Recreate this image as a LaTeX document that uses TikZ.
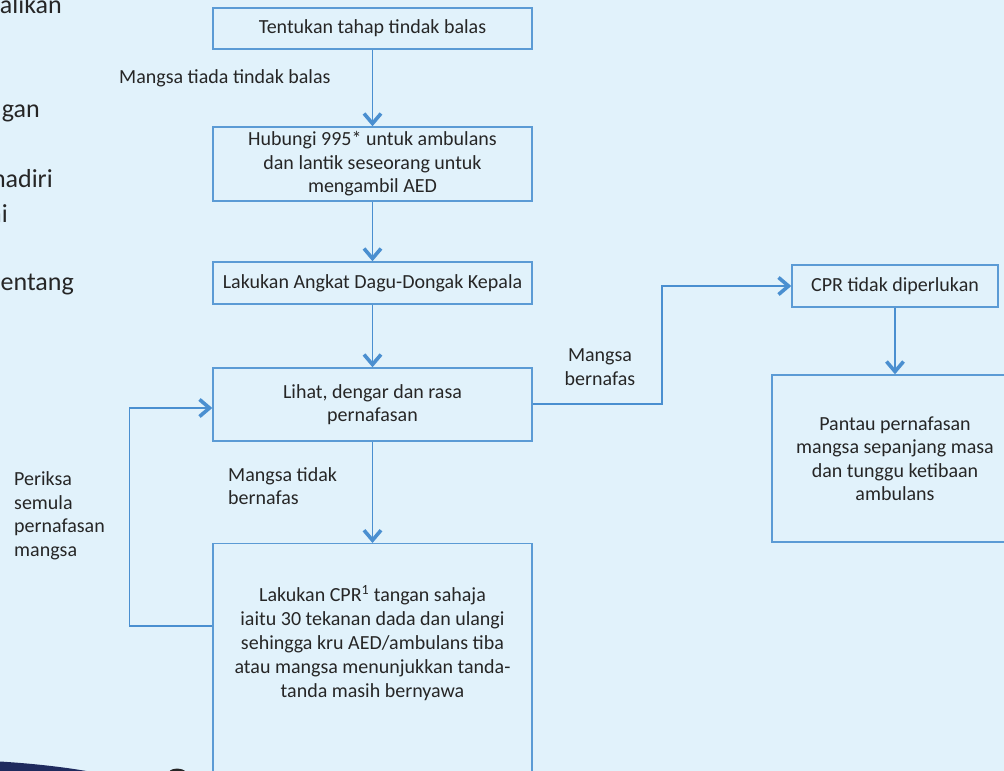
\documentclass[tikz,border=0pt]{standalone}
\usepackage{fontspec}
\setmainfont{Carlito}
\usetikzlibrary{arrows.meta}
\definecolor{bg}{HTML}{E1F2FB}
\definecolor{boxline}{HTML}{5B9BD5}
\definecolor{arrowc}{HTML}{4A8FD0}
\definecolor{txt}{HTML}{262626}
\definecolor{navy}{HTML}{1F2B5E}
\tikzset{
  stepbox/.style={draw=boxline, line width=1.4pt, fill=none, text=txt, align=center,
    font=\fontsize{20}{23.5}\selectfont, inner sep=0pt},
  lbl/.style={text=txt, font=\fontsize{20}{23.5}\selectfont, inner sep=0pt},
  bigtxt/.style={text=txt, font=\fontsize{26}{31}\selectfont, inner sep=0pt},
  flow/.style={draw=arrowc, line width=1.7pt,
    -{Straight Barb[length=10pt,width=17pt,line width=3.6pt]}},
}
\begin{document}
\begin{tikzpicture}[x=1pt,y=-1pt]
\fill[bg] (0,0) rectangle (1004,771);
\useasboundingbox (0,0) rectangle (1004,771);
\clip (0,0) rectangle (1004,771);

% cut-off text at left edge
\node[bigtxt, anchor=base east] (l1) at (62,13) {alikan};
\node[bigtxt, anchor=base east] (l2) at (40,117) {gan};
\node[bigtxt, anchor=base east] (l3) at (53,187) {hadiri};
\node[bigtxt, anchor=base east] (l4) at (8,222) {hi};
\node[bigtxt, anchor=base east] (l5) at (74,290) {entang};

% boxes
\node[stepbox, minimum width=319pt, minimum height=41pt] (b1) at (372.5,28.5) {Tentukan tahap tindak balas};
\node[stepbox, minimum width=319pt, minimum height=74pt] (b2) at (372.5,164) {Hubungi 995* untuk ambulans\\dan lantik seseorang untuk\\mengambil AED};
\node[stepbox, minimum width=319pt, minimum height=42pt] (b3) at (372.5,283) {Lakukan Angkat Dagu-Dongak Kepala};
\node[stepbox, minimum width=319pt, minimum height=73pt] (b4) at (372.5,404.5) {Lihat, dengar dan rasa\\pernafasan};
\node[stepbox, minimum width=319pt, minimum height=260pt, anchor=north] (b5) at (372.5,543) {};
\node[lbl, align=center, font=\fontsize{20}{24}\selectfont] (t5) at (372.5,643) {Lakukan CPR\textsuperscript{1} tangan sahaja\\iaitu 30 tekanan dada dan ulangi\\sehingga kru AED/ambulans tiba\\atau mangsa menunjukkan tanda-\\tanda masih bernyawa};
\node[stepbox, minimum width=206pt, minimum height=42pt] (b6) at (895,286) {CPR tidak diperlukan};
\node[stepbox, minimum width=246pt, minimum height=167pt] (b7) at (895,458.5) {Pantau pernafasan\\mangsa sepanjang masa\\dan tunggu ketibaan\\ambulans};

% labels
\node[lbl, anchor=west] (m1) at (119,78) {Mangsa tiada tindak balas};
\node[lbl, align=left, anchor=north west] (m2) at (228,467) {Mangsa tidak\\bernafas};
\node[lbl, align=center] (m3) at (600,367) {Mangsa\\bernafas};
\node[lbl, align=left, anchor=west] (m4) at (14,516) {Periksa\\semula\\pernafasan\\mangsa};

% connectors
\draw[flow] (b1.south) -- (b2.north);
\draw[flow] (b2.south) -- (b3.north);
\draw[flow] (b3.south) -- (b4.north);
\draw[flow] (b4.south) -- (b5.north);
\draw[flow] (b6.south) -- (b7.north);
\coordinate (r1) at (662,404);
\coordinate (r2) at (662,286);
\draw[flow] (b4.east |- r1) -- (r1) -- (r2) -- (b6.west);
\coordinate (c1) at (129.5,626);
\coordinate (c2) at (129.5,408);
\draw[flow] (b5.west |- c1) -- (c1) -- (c2) -- (b4.west |- c2);

% decorative bottom-left shapes
\fill[navy] (0,761.5) .. controls (40,764) and (70,768) .. (92,772) -- (0,772) -- cycle;
\fill[black!85] (169,772) .. controls (171,767.5) and (183,767.5) .. (186,772) -- cycle;
\end{tikzpicture}
\end{document}
